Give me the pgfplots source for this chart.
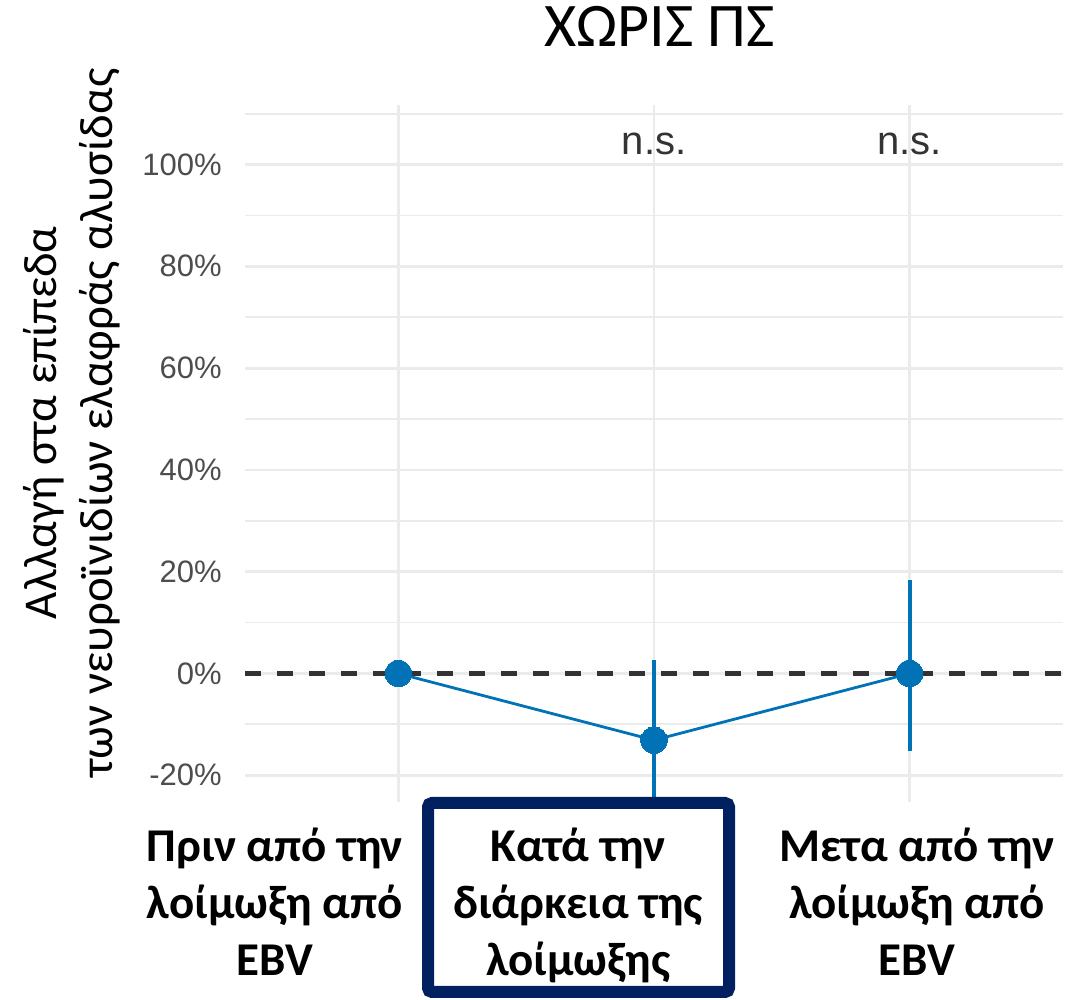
\documentclass[border=0pt]{standalone}
\usepackage{pgfplots}
\pgfplotsset{compat=1.18}
\usepackage{fontspec}
\setmainfont{Carlito}
\newfontfamily\arialfont{Liberation Sans}
\definecolor{ptblue}{HTML}{0072B5}
\definecolor{navybox}{HTML}{002060}
\definecolor{gridgray}{HTML}{EBEBEB}
\definecolor{ticklab}{HTML}{4D4D4D}
\begin{document}
\begin{tikzpicture}
\useasboundingbox (0,0) rectangle (1071pt,1000pt);
\begin{axis}[
  at={(245pt,198pt)}, anchor=south west,
  scale only axis, width=818pt, height=697pt,
  xmin=0.4, xmax=3.6, ymin=-25.25, ymax=111.7,
  axis lines=left, axis line style={draw=none},
  tick style={draw=none},
  xtick={0.517,1.703,3.029},
  xticklabels={{Πριν από την\\λοίμωξη από\\EBV},{Κατά την\\διάρκεια της\\λοίμωξης},{Μετα από την\\λοίμωξη από\\EBV}},
  xticklabel style={align=center, font=\bfseries\fontsize{47}{57}\selectfont, anchor=north, inner sep=0pt, yshift=-24pt},
  xmajorgrids=false,
  extra x ticks={1,2,3}, extra x tick labels={}, extra x tick style={grid=major},
  ytick={-20,0,20,40,60,80,100},
  yticklabels={-20\%,0\%,20\%,40\%,60\%,80\%,100\%},
  minor ytick={-10,10,30,50,70,90,110},
  ymajorgrids, yminorgrids,
  major grid style={gridgray, line width=2.8pt},
  minor grid style={gridgray, line width=1.8pt},
  yticklabel style={font=\arialfont\fontsize{31}{37}\selectfont, text=ticklab, anchor=east, inner sep=0pt, xshift=-21pt},
  ylabel={Αλλαγή στα επίπεδα\\των νευροϊνιδίων ελαφράς αλυσίδας},
  ylabel style={at={(axis description cs:-0.2115,0.544)}, anchor=center, align=center, font=\fontsize{47}{56}\selectfont},
  title={ΧΩΡΙΣ ΠΣ},
  title style={at={(axis description cs:0.507,1.0746)}, anchor=base, font=\fontsize{62}{74}\selectfont, inner sep=0pt},
  clip=true,
]
\addplot[color=black!80, line width=4.3pt, dash pattern=on 16pt off 16pt, forget plot] coordinates {(0.4,0) (3.6,0)};
\addplot[color=ptblue, line width=2.8pt, mark=*, mark size=13.3pt, mark options={solid, fill=ptblue, draw=ptblue, line width=0pt},
  error bars/.cd, y dir=both, y explicit, error mark=none, error bar style={line width=4pt, color=ptblue}]
  coordinates {
    (1,0) +- (0,0)
    (2,-13.1) += (0,15.7) -= (0,15.0)
    (3,0) += (0,18.3) -= (0,15.3)
  };
\node[font=\arialfont\fontsize{40}{48}\selectfont, text=black!80, anchor=base] at (axis cs:2,102.06) {n.s.};
\node[font=\arialfont\fontsize{40}{48}\selectfont, text=black!80, anchor=base] at (axis cs:3,102.06) {n.s.};
\end{axis}
\draw[navybox, line width=12pt, rounded corners=4pt] (428pt,8pt) rectangle (729pt,197pt);
\end{tikzpicture}
\end{document}
